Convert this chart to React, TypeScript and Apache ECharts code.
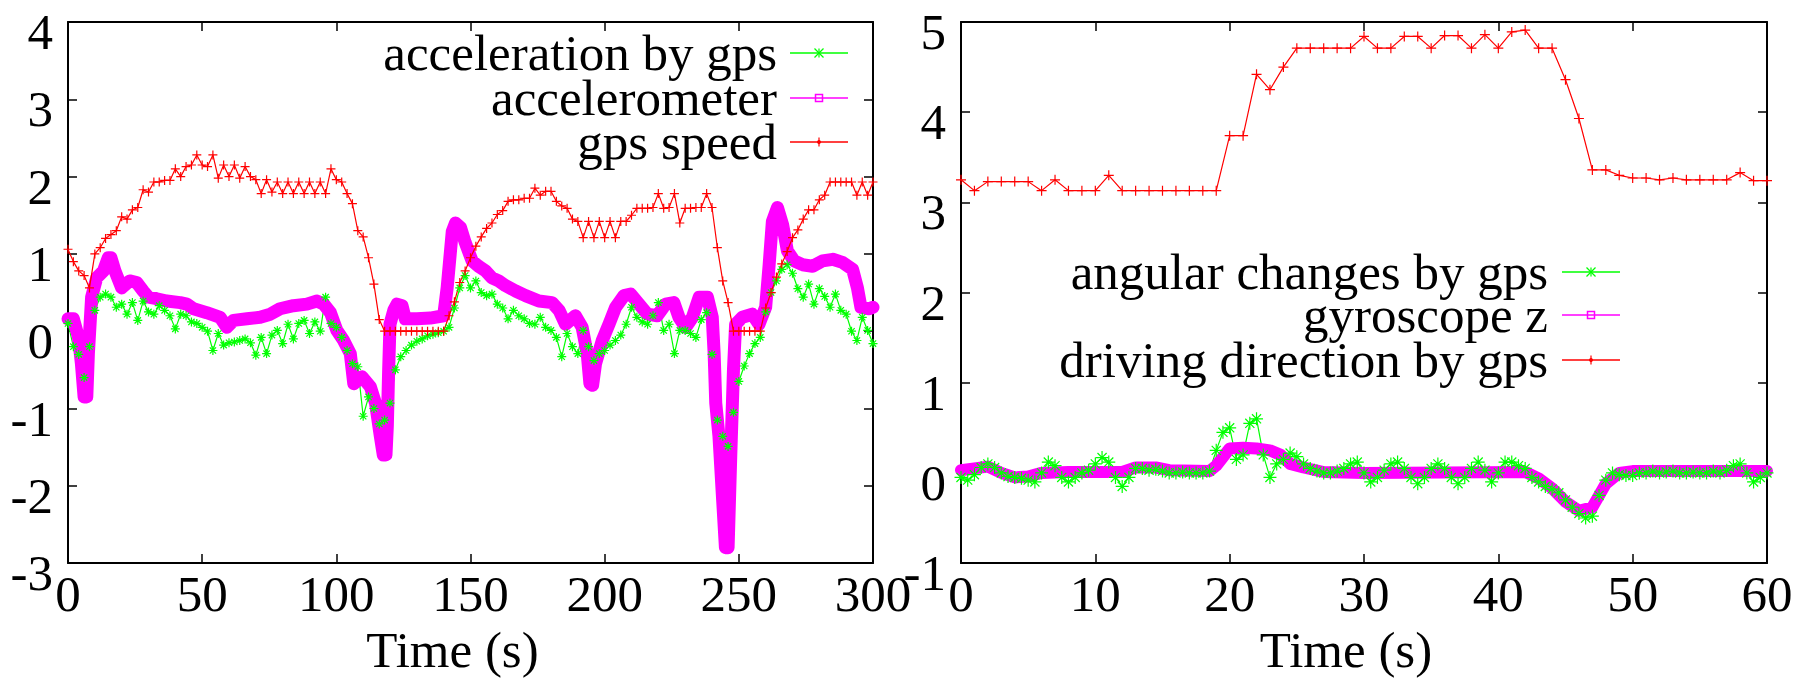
import React, { useEffect, useRef } from "react";
import * as echarts from "echarts";

const FONT = "Liberation Serif, DejaVu Serif, Times New Roman, Times, serif";
const RED = "#ff0000";
const GREEN = "#00ff00";
const MAGENTA = "#ff00ff";

// ---------- left panel (0..300 s) ----------
const leftTimeStep = 2; // seconds between gps samples
const leftXTicks = { min: 0, max: 300, interval: 50 };
const leftYTicks = { min: -3, max: 4, interval: 1 };

const gpsSpeed = [
  1.06, 0.9, 0.78, 0.72, 0.56, 1.0, 1.08, 1.2, 1.25, 1.3,
  1.48, 1.45, 1.57, 1.6, 1.83, 1.8, 1.93, 1.93, 1.95, 1.95,
  2.1, 2.0, 2.13, 2.15, 2.28, 2.15, 2.13, 2.28, 1.98, 2.15,
  2.0, 2.15, 1.98, 2.13, 2.0, 1.96, 1.78, 1.96, 1.8, 1.93,
  1.78, 1.93, 1.78, 1.93, 1.78, 1.93, 1.78, 1.93, 1.78, 2.1,
  1.96, 1.93, 1.78, 1.65, 1.3, 1.22, 0.95, 0.61, 0.15, 0.0,
  0, 0, 0, 0, 0, 0, 0, 0, 0, 0,
  0.0, 0.2, 0.38, 0.63, 0.78, 0.95, 1.1, 1.22, 1.33, 1.4,
  1.51, 1.56, 1.68, 1.7, 1.7, 1.72, 1.72, 1.85, 1.76, 1.81,
  1.81, 1.68, 1.62, 1.59, 1.45, 1.42, 1.21, 1.42, 1.21, 1.42,
  1.21, 1.42, 1.21, 1.42, 1.42, 1.5, 1.59, 1.59, 1.59, 1.6,
  1.78, 1.59, 1.6, 1.78, 1.4, 1.59, 1.59, 1.6, 1.6, 1.78,
  1.6, 1.08, 0.65, 0.37, 0.0, 0, 0, 0, 0, 0,
  0.3, 0.5, 0.7, 0.87, 1.03, 1.21, 1.31, 1.45, 1.57, 1.57,
  1.7, 1.76, 1.93, 1.93, 1.93, 1.93, 1.93, 1.76, 1.93, 1.76,
  1.93,
];

const gpsAcceleration = [
  0.1, -0.2, -0.3, -0.6, -0.2, 0.27, 0.44, 0.48, 0.44, 0.31,
  0.35, 0.22, 0.37, 0.14, 0.39, 0.25, 0.22, 0.33, 0.27, 0.2,
  0.03, 0.22, 0.2, 0.12, 0.1, 0.05, 0.0, -0.25, -0.03, -0.18,
  -0.15, -0.14, -0.12, -0.1, -0.15, -0.31, -0.08, -0.29, -0.05, 0.01,
  -0.16, 0.09, -0.1, 0.1, 0.14, -0.03, 0.12, 0.0, 0.44, 0.1,
  0.05, -0.08, -0.25, -0.42, -0.46, -1.1, -0.85, -1.0, -1.2, -1.15,
  -0.93, -0.5, -0.33, -0.25, -0.18, -0.13, -0.1, -0.06, -0.04, -0.02,
  0.0, 0.05, 0.3, 0.56, 0.72, 0.56, 0.65, 0.5, 0.46, 0.48,
  0.35, 0.3, 0.16, 0.27, 0.2, 0.16, 0.1, 0.09, 0.18, 0.05,
  0.01, -0.08, -0.33, -0.03, -0.2, -0.29, 0.01, -0.2, -0.38, -0.29,
  -0.25, -0.18, -0.12, -0.05, 0.09, 0.31, 0.18, 0.12, 0.09, 0.2,
  0.37, 0.01, 0.09, -0.29, 0.01, 0.01, -0.03, -0.08, 0.15, 0.24,
  -0.3, -1.15, -1.36, -1.49, -1.05, -0.65, -0.45, -0.29, -0.16, -0.08,
  0.25, 0.5, 0.65, 0.8, 0.86, 0.75, 0.55, 0.44, 0.61, 0.35,
  0.55, 0.45, 0.31, 0.48, 0.27, 0.22, 0.0, -0.12, 0.18, 0.01,
  -0.16,
];

// [time s, value]
const accelerometer: [number, number][] = [
  [0, 0.16], [2, 0.16], [3.9, -0.08], [5, -0.42], [6, -0.85], [7, -0.85], [7.6, -0.29],
  [8.8, 0.44], [10.7, 0.69], [13.2, 0.78], [15, 0.95], [16, 0.95], [17.5, 0.78], [20, 0.56],
  [23, 0.65], [25.6, 0.63], [28, 0.52], [30, 0.44], [33, 0.42], [36.8, 0.39], [41.8, 0.37],
  [44.3, 0.35], [46.8, 0.29], [51.7, 0.24], [56.7, 0.18], [59.2, 0.05], [61.7, 0.14],
  [66.7, 0.16], [71.6, 0.18], [75.4, 0.22], [79, 0.29], [84, 0.33], [89, 0.35], [92.8, 0.39],
  [95.3, 0.35], [97.8, 0.24], [100.2, 0.01], [102.7, -0.12], [105.2, -0.29], [106.5, -0.68],
  [109.6, -0.59], [112.7, -0.72], [114.6, -0.93], [116.4, -1.36], [117.5, -1.6], [118.5, -1.6],
  [119, -1.23], [119.5, -0.5], [120, 0.09], [121.4, 0.27], [122.6, 0.35], [124.5, 0.33],
  [125.7, 0.16], [130, 0.16], [135, 0.17], [140, 0.2], [141.3, 0.56], [143.2, 1.29],
  [144.4, 1.4], [146.3, 1.34], [148, 1.15], [150.6, 0.91], [153, 0.84], [155.6, 0.78],
  [158, 0.69], [160.5, 0.65], [163, 0.59], [166.8, 0.52], [170.5, 0.46], [175.5, 0.39],
  [180.4, 0.37], [183, 0.27], [185.4, 0.09], [189.1, 0.2], [191.6, 0.05], [193.5, -0.29],
  [194.5, -0.68], [195.5, -0.7], [196.6, -0.42], [199.1, -0.12], [201.6, 0.09], [204.1, 0.31],
  [207.2, 0.46], [209.7, 0.48], [212.8, 0.35], [215.9, 0.22], [219.6, 0.2], [222.7, 0.35],
  [225.8, 0.37], [227.7, 0.18], [230.2, 0.05], [232.7, 0.18], [235.2, 0.44], [238.3, 0.44],
  [240.1, 0.18], [240.8, -0.29], [241.4, -0.93], [242.6, -1.36], [244, -2.2], [245, -2.8],
  [246, -2.8], [247, -1.6], [248, -0.5], [248.8, 0.09], [251.3, 0.18], [255, 0.22],
  [257.5, 0.09], [260, 0.31], [261.3, 0.86], [262.5, 1.42], [264.4, 1.6], [266.3, 1.38],
  [268.1, 1.04], [270.6, 0.91], [273.7, 0.86], [277.5, 0.84], [281.2, 0.91], [285, 0.93],
  [288.6, 0.89], [292.4, 0.8], [294.2, 0.56], [295.5, 0.31], [298.6, 0.29], [300, 0.31],
];

// ---------- right panel (0..60 s) ----------
const directionStep = 1;
const angularStep = 0.5;
const rightXTicks = { min: 0, max: 60, interval: 10 };
const rightYTicks = { min: -1, max: 5, interval: 1 };

const drivingDirection = [
  3.25, 3.13, 3.23, 3.23, 3.23, 3.23, 3.13, 3.25, 3.13, 3.13,
  3.13, 3.3, 3.13, 3.13, 3.13, 3.13, 3.13, 3.13, 3.13, 3.13,
  3.74, 3.74, 4.42, 4.25, 4.5, 4.71, 4.71, 4.71, 4.71, 4.71,
  4.84, 4.71, 4.71, 4.84, 4.84, 4.71, 4.85, 4.85, 4.71, 4.86,
  4.71, 4.89, 4.91, 4.71, 4.71, 4.36, 3.93, 3.36, 3.36, 3.3,
  3.27, 3.27, 3.25, 3.27, 3.25, 3.25, 3.25, 3.25, 3.33, 3.24,
  3.24,
];

const angularChanges = [
  -0.05, -0.08, -0.02, 0.06, 0.1, 0.06, 0.0, -0.04, -0.05, -0.06,
  -0.08, -0.1, 0.0, 0.12, 0.08, -0.05, -0.1, -0.05, 0.0, 0.03,
  0.1, 0.17, 0.12, -0.05, -0.15, -0.05, 0.05, 0.05, 0.03, 0.04,
  0.02, 0.0, 0.0, 0.01, 0.0, 0.0, 0.0, 0.02, 0.25, 0.45,
  0.5, 0.15, 0.2, 0.55, 0.6, 0.2, -0.05, 0.1, 0.15, 0.22,
  0.18, 0.1, 0.05, 0.02, 0.0, 0.0, 0.02, 0.05, 0.1, 0.12,
  0.0, -0.1, -0.05, 0.03, 0.1, 0.12, 0.05, -0.05, -0.12, -0.05,
  0.05, 0.1, 0.05, -0.05, -0.12, -0.05, 0.05, 0.12, 0.03, -0.1,
  0.0, 0.12, 0.12, 0.08, 0.05, -0.05, -0.1, -0.15, -0.18, -0.22,
  -0.3, -0.38, -0.45, -0.5, -0.48, -0.25, -0.08, 0.0, -0.02, -0.03,
  -0.03, 0.0, 0.0, 0.02, 0.0, 0.01, 0.02, 0.0, 0.0, 0.01,
  0.0, 0.0, 0.02, 0.0, 0.03, 0.08, 0.1, 0.0, -0.1, -0.05,
  0.0,
];

const gyroscopeZ: [number, number][] = [
  [0, 0.03], [1, 0.05], [2, 0.07], [3, 0.0], [4, -0.05], [5, -0.04], [6, 0.0], [8, 0.01],
  [12, 0.01], [13, 0.06], [14.5, 0.06], [15.5, 0.03], [18.5, 0.02], [19, 0.08], [20, 0.27],
  [21, 0.28], [22, 0.27], [23, 0.25], [23.8, 0.2], [24.5, 0.1], [25.5, 0.06], [27, 0.01],
  [30, 0.0], [42, 0.01], [43, -0.06], [44, -0.17], [45, -0.32], [46, -0.42], [47, -0.38],
  [48, -0.12], [49, 0.0], [50, 0.02], [60, 0.02],
];

const leftLegend = ["acceleration by gps", "accelerometer", "gps speed"];
const rightLegend = ["angular changes by gps", "gyroscope z", "driving direction by gps"];

const PLUS = "path://M0,5L10,5M5,0L5,10";
const STAR = "path://M0,5L10,5M5,0L5,10M1.5,1.5L8.5,8.5M8.5,1.5L1.5,8.5";

const FS = 51;

function xAxes(gridIndex: number, t: { min: number; max: number; interval: number }) {
  const common = {
    type: "value",
    gridIndex,
    min: t.min,
    max: t.max,
    interval: t.interval,
    splitLine: { show: false },
    axisLine: { show: true, onZero: false, lineStyle: { color: "#000", width: 2 } },
    axisTick: { show: true, inside: true, length: 9, lineStyle: { color: "#000", width: 1.5 } },
  };
  return [
    {
      ...common,
      position: "bottom",
      axisLabel: { fontFamily: FONT, fontSize: FS, color: "#000", margin: 5 },
      name: "Time (s)",
      nameLocation: "middle",
      nameGap: 60,
      nameTextStyle: { fontFamily: FONT, fontSize: FS, color: "#000", padding: [0, 36, 0, 0] },
    },
    { ...common, position: "top", axisLabel: { show: false } },
  ];
}

function yAxes(gridIndex: number, t: { min: number; max: number; interval: number }) {
  const common = {
    type: "value",
    gridIndex,
    min: t.min,
    max: t.max,
    interval: t.interval,
    splitLine: { show: false },
    axisLine: { show: true, onZero: false, lineStyle: { color: "#000", width: 2 } },
    axisTick: { show: true, inside: true, length: 9, lineStyle: { color: "#000", width: 1.5 } },
  };
  return [
    {
      ...common,
      position: "left",
      axisLabel: {
        fontFamily: FONT,
        fontSize: FS,
        color: "#000",
        margin: 15,
        verticalAlign: "top",
        lineHeight: 20,
      },
    },
    { ...common, position: "right", axisLabel: { show: false } },
  ];
}

function legendGraphics(labels: string[], textRight: number, lineX0: number, lineX1: number, rows: number[]) {
  const colors = [GREEN, MAGENTA, RED];
  const els: any[] = [];
  const cx = (lineX0 + lineX1) / 2;
  labels.forEach((label, i) => {
    const y = rows[i];
    els.push({
      type: "text",
      x: textRight,
      y,
      style: {
        text: label,
        font: `${FS}px ${FONT}`,
        fontFamily: FONT,
        fontSize: FS,
        fill: "#000",
        align: "right",
        verticalAlign: "middle",
        textAlign: "right",
        textVerticalAlign: "middle",
      },
    });
    els.push({
      type: "line",
      shape: { x1: lineX0, y1: y, x2: lineX1, y2: y },
      style: { stroke: colors[i], lineWidth: 1.5 },
    });
    const s = 4.5;
    if (i === 0) {
      els.push({ type: "line", shape: { x1: cx - s, y1: y - s, x2: cx + s, y2: y + s }, style: { stroke: colors[i], lineWidth: 1.2 } });
      els.push({ type: "line", shape: { x1: cx - s, y1: y + s, x2: cx + s, y2: y - s }, style: { stroke: colors[i], lineWidth: 1.2 } });
      els.push({ type: "line", shape: { x1: cx, y1: y - s, x2: cx, y2: y + s }, style: { stroke: colors[i], lineWidth: 1.2 } });
    } else if (i === 1) {
      els.push({ type: "rect", shape: { x: cx - 3.5, y: y - 3.5, width: 7, height: 7 }, style: { stroke: colors[i], fill: "none", lineWidth: 1.5 } });
    } else {
      els.push({ type: "line", shape: { x1: cx, y1: y - s, x2: cx, y2: y + s }, style: { stroke: colors[i], lineWidth: 1.2 } });
      els.push({ type: "circle", shape: { cx, cy: y, r: 2 }, style: { fill: colors[i] } });
    }
  });
  return els;
}

export default function App() {
  const ref = useRef<HTMLDivElement>(null);

  useEffect(() => {
    if (!ref.current) return;
    const chart = echarts.init(ref.current, undefined, { renderer: "svg" });

    const markerSeries = (name: string, color: string, symbol: string, data: number[][], xi: number, yi: number, size: number) => ({
      name,
      type: "line",
      xAxisIndex: xi,
      yAxisIndex: yi,
      data,
      symbol,
      symbolSize: size,
      lineStyle: { color, width: 1.2 },
      itemStyle: { color, borderColor: color, borderWidth: 1.2 },
      silent: true,
    });
    const thickSeries = (name: string, data: number[][], xi: number, yi: number, w: number) => ({
      name,
      type: "line",
      xAxisIndex: xi,
      yAxisIndex: yi,
      data,
      symbol: "none",
      lineStyle: { color: MAGENTA, width: w, join: "round", cap: "round" },
      silent: true,
    });

    chart.setOption({
      animation: false,
      backgroundColor: "#fff",
      textStyle: { fontFamily: FONT },
      grid: [
        { left: 68, top: 22, width: 805, height: 545 },
        { left: 961, top: 22, width: 806, height: 545 },
      ],
      xAxis: [...xAxes(0, leftXTicks), ...xAxes(1, rightXTicks)],
      yAxis: [...yAxes(0, leftYTicks), ...yAxes(1, rightYTicks)],
      series: [
        markerSeries(leftLegend[0], GREEN, STAR, gpsAcceleration.map((v, i) => [i * leftTimeStep, v]), 0, 0, 9),
        thickSeries(leftLegend[1], accelerometer, 0, 0, 13),
        markerSeries(leftLegend[2], RED, PLUS, gpsSpeed.map((v, i) => [i * leftTimeStep, v]), 0, 0, 9),
        markerSeries(rightLegend[0], GREEN, STAR, angularChanges.map((v, i) => [i * angularStep, v]), 2, 2, 13),
        thickSeries(rightLegend[1], gyroscopeZ, 2, 2, 12),
        markerSeries(rightLegend[2], RED, PLUS, drivingDirection.map((v, i) => [i * directionStep, v]), 2, 2, 10),
      ],
      graphic: [
        ...legendGraphics(leftLegend, 777, 790, 848, [53, 98, 142]),
        ...legendGraphics(rightLegend, 1548, 1562, 1620, [272, 315, 360]),
      ],
    });

    return () => chart.dispose();
  }, []);

  return (
    <div
      ref={ref}
      style={{ position: "fixed", left: 0, top: 0, width: 1806, height: 680, background: "#fff" }}
    />
  );
}
